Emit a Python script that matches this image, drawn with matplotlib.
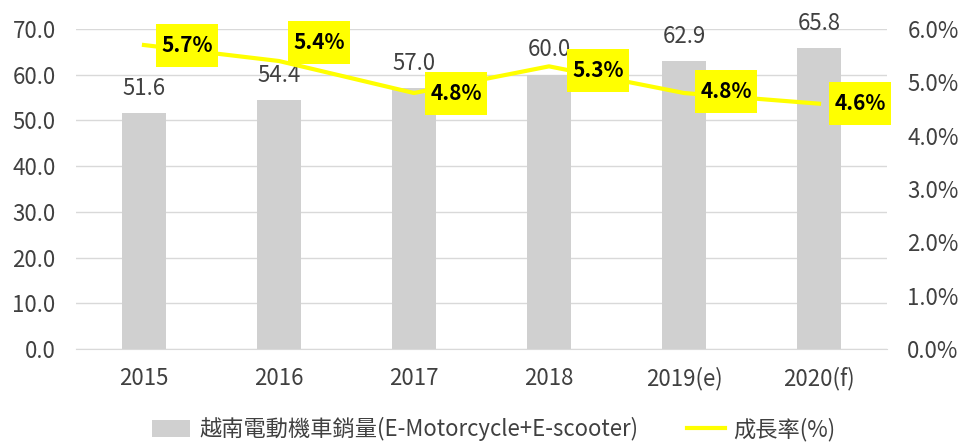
import matplotlib
matplotlib.use("Agg")
import matplotlib.pyplot as plt
from matplotlib.patches import Rectangle
from matplotlib.transforms import IdentityTransform
from matplotlib.ticker import FuncFormatter

plt.rcParams['font.family'] = ['Noto Sans CJK TC', 'DejaVu Sans']

# data
years = ["2015", "2016", "2017", "2018", "2019(e)", "2020(f)"]
sales = [51.6, 54.4, 57.0, 60.0, 62.9, 65.8]
growth = [5.7, 5.4, 4.8, 5.3, 4.8, 4.6]
bar_name = "越南電動機車銷量(E-Motorcycle+E-scooter)"
line_name = "成長率(%)"

# label nudges (pixels) for the growth labels
label_dx = [43, 40, 42, 49, 42, 41]
label_dy = [0, 19, 0, -4, 2, 0]
box_w, box_h = 62, 43  # yellow label box size in pixels

fig = plt.figure(figsize=(9.63, 4.45), dpi=100)
ax = fig.add_axes([0.0794, 0.2157, 0.8412, 0.7191])
ax2 = ax.twinx()

x = list(range(len(years)))
bars = ax.bar(x, sales, width=0.32, color="#D0D0D0", zorder=2, label=bar_name)
for xi, v in zip(x, sales):
    ax.annotate(f"{v:.1f}", (xi, v), xytext=(0, 25), textcoords="offset pixels",
                ha="center", va="center", fontsize=16, color="#404040")

ax.set_xlim(-0.5, len(years) - 0.5)
ax.set_ylim(0, 70)
ax.set_yticks(range(0, 71, 10))
ax.yaxis.set_major_formatter(FuncFormatter(lambda v, p: f"{v:.1f}"))
ax.grid(axis="y", color="#D9D9D9", linewidth=1, zorder=0)
ax.set_axisbelow(True)
ax.set_xticks(x)
ax.set_xticklabels(years)
for s in ["top", "right", "left"]:
    ax.spines[s].set_visible(False)
    ax2.spines[s].set_visible(False)
ax2.spines["bottom"].set_visible(False)
ax.spines["bottom"].set_color("#D9D9D9")
ax.tick_params(axis="both", length=0, labelsize=16, labelcolor="#404040")
ax.tick_params(axis="x", pad=13)
ax.tick_params(axis="y", pad=15)

line, = ax2.plot(x, growth, color="#FFFF00", linewidth=3, zorder=3, label=line_name)
ax2.set_ylim(0, 6)
ax2.set_yticks(range(0, 7))
ax2.yaxis.set_major_formatter(FuncFormatter(lambda v, p: f"{v:.1f}%"))
ax2.tick_params(axis="y", length=0, labelsize=16, labelcolor="#404040", pad=15)

for xi, g, dx, dy in zip(x, growth, label_dx, label_dy):
    px, py = ax2.transData.transform((xi, g))
    cx, cy = px + dx, py + dy
    ax2.add_artist(Rectangle((cx - box_w / 2, cy - box_h / 2), box_w, box_h,
                             transform=IdentityTransform(), facecolor="#FFFF00",
                             edgecolor="none", zorder=4, clip_on=False))
    ax2.annotate(f"{g:.1f}%", (xi, g), xytext=(dx, dy), textcoords="offset pixels",
                 ha="center", va="center", fontsize=15, fontweight="bold", color="black",
                 zorder=5)

fig.legend([bars, line], [bar_name, line_name], loc="center", bbox_to_anchor=(0.513, 0.035),
           ncol=2, frameon=False, fontsize=16, labelcolor="#404040",
           handlelength=1.7, handleheight=0.8, columnspacing=2.2, handletextpad=0.4)

fig.savefig("out.png", dpi=100)
